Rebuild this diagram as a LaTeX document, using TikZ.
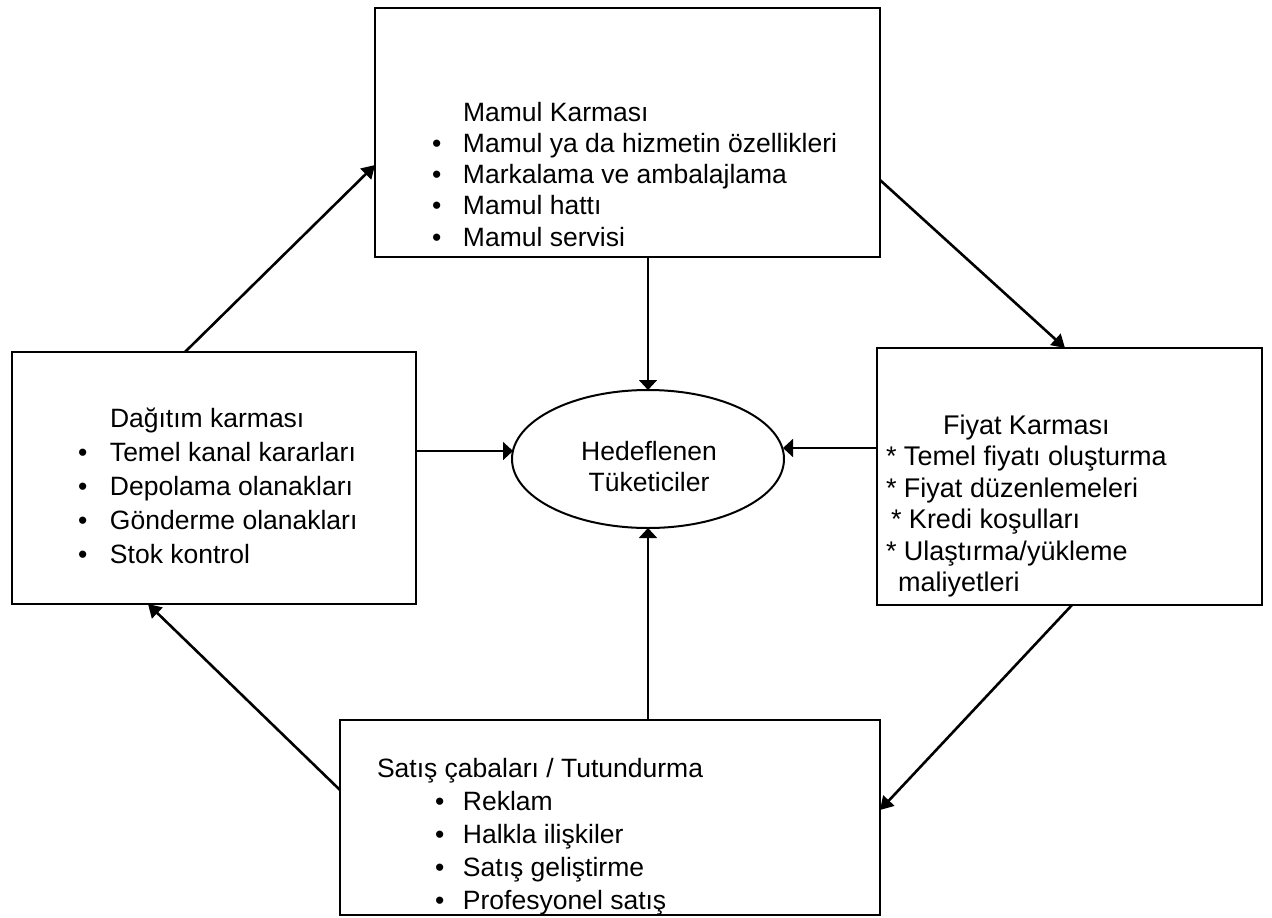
\documentclass[tikz,border=0pt]{standalone}
\usepackage{fontspec}
\setmainfont{Liberation Sans}
\usetikzlibrary{arrows.meta,shapes.geometric,calc}
\begin{document}
\begin{tikzpicture}[x=1pt,y=-1pt,
  panel/.style={draw, line width=2pt, rectangle, inner sep=0pt, outer sep=0pt},
  body/.style={inner sep=0pt, outer sep=0pt, anchor=base west},
  link/.style={line width=2.6pt, -{Triangle[length=13pt,width=15pt]}},
  feed/.style={line width=1.8pt, -{Triangle[length=10pt,width=18pt]}},
]
\fill[white] (0,0) rectangle (1272,918);
\useasboundingbox (0,0) rectangle (1272,918);

% the four mix boxes and the target market in the middle
\node[panel, minimum width=505pt, minimum height=249pt] (mamul)   at (627.5,132.5) {};
\node[panel, minimum width=404pt, minimum height=252pt] (dagitim) at (214,478) {};
\node[panel, minimum width=385pt, minimum height=257pt] (fiyat)   at (1069.5,476.5) {};
\node[panel, minimum width=540pt, minimum height=195pt] (satis)   at (610,817.5) {};
\node[draw, line width=2pt, ellipse, inner sep=0pt, outer sep=0pt,
      minimum width=272pt, minimum height=138pt] (hedef) at (648,459) {};

% box contents
\node[body, font=\fontsize{26.5}{31.3}\selectfont] (mamulText) at (432,121) {%
  \begin{tabular}[t]{@{}p{31pt}@{}l@{}}
   & Mamul Karması\\
  \textbullet & Mamul ya da hizmetin özellikleri\\
  \textbullet & Markalama ve ambalajlama\\
  \textbullet & Mamul hattı\\
  \textbullet & Mamul servisi
  \end{tabular}};

\node[body, font=\fontsize{26.5}{34}\selectfont] (dagitimText) at (78,427) {%
  \begin{tabular}[t]{@{}p{32pt}@{}l@{}}
   & Dağıtım karması\\
  \textbullet & Temel kanal kararları\\
  \textbullet & Depolama olanakları\\
  \textbullet & Gönderme olanakları\\
  \textbullet & Stok kontrol
  \end{tabular}};

\node[body, font=\fontsize{27}{31.5}\selectfont] (fiyatText) at (886,434) {%
  \begin{tabular}[t]{@{}l@{}}
  \hspace*{57pt}Fiyat Karması\\
  {*} Temel fiyatı oluşturma\\
  {*} Fiyat düzenlemeleri\\
  \hspace*{5pt}{*} Kredi koşulları\\
  {*} Ulaştırma/yükleme\\
  \hspace*{12pt}maliyetleri
  \end{tabular}};

\node[body, font=\fontsize{26.5}{33}\selectfont] (satisText) at (377,777) {%
  \begin{tabular}[t]{@{}p{58pt}@{}p{28pt}@{}l@{}}
  \multicolumn{3}{@{}l@{}}{Satış çabaları / Tutundurma}\\
   & \textbullet & Reklam\\
   & \textbullet & Halkla ilişkiler\\
   & \textbullet & Satış geliştirme\\
   & \textbullet & Profesyonel satış
  \end{tabular}};

\node[align=center, inner sep=0pt, font=\fontsize{26.5}{31}\selectfont] (hedefText) at (649,467)
  {Hedeflenen\\Tüketiciler};

% cycle between the mix elements
\draw[link] ($(dagitim.north west)+(173,0)$) -- ($(mamul.north west)+(0,157)$);
\draw[link] ($(mamul.north east)+(0,172)$) -- ($(fiyat.north west)+(188,0)$);
\draw[link] ($(fiyat.south west)+(195,0)$) -- ($(satis.north east)+(0,90)$);
\draw[link] ($(satis.north west)+(0,70)$) -- ($(dagitim.south west)+(136,0)$);

% every element points at the target consumers
\coordinate (inLeft)  at ($(hedef.west)+(1,-8)$);
\coordinate (inRight) at ($(hedef.east)+(-1,-11)$);
\draw[feed] (hedef.north |- mamul.south) -- (hedef.north);
\draw[feed] (hedef.south |- satis.north) -- (hedef.south);
\draw[feed] (inLeft -| dagitim.east) -- (inLeft);
\draw[feed] (inRight -| fiyat.west) -- (inRight);
\end{tikzpicture}
\end{document}
